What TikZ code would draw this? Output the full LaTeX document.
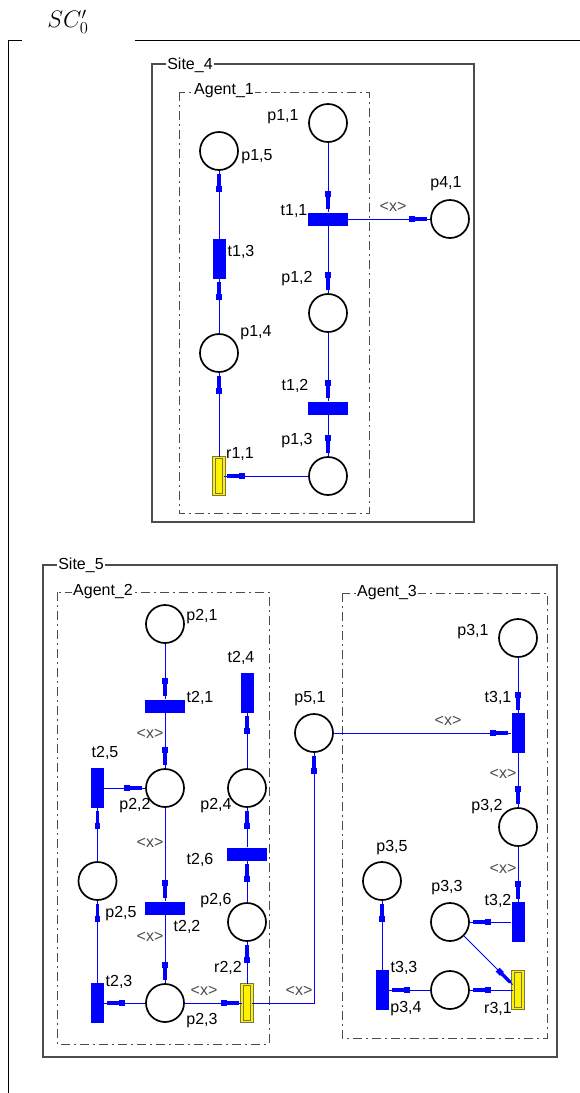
\documentclass[tikz,border=0pt]{standalone}
\usepackage{fontspec}
\usepackage{amsmath}
\usetikzlibrary{arrows.meta,positioning,decorations.markings}
\newfontfamily\netfont{Liberation Sans}

\begin{document}
\begin{tikzpicture}[
    x=1pt, y=-1pt,
    place/.style={draw, circle, line width=1.7pt, minimum size=38pt, inner sep=0pt},
    transh/.style={fill=blue, minimum width=40pt, minimum height=13pt, inner sep=0pt},
    transv/.style={fill=blue, minimum width=13pt, minimum height=40pt, inner sep=0pt},
    res/.style={draw=black!60!yellow, fill=yellow, line width=0.8pt, double=yellow, double distance=1.6pt,
      minimum width=10pt, minimum height=37pt, inner sep=0pt},
    lbl/.style={font=\netfont\fontsize{16}{18}\selectfont, inner sep=0pt},
    inscr/.style={font=\netfont\fontsize{16}{18}\selectfont, text=black!70, inner sep=0pt},
    boxlbl/.style={font=\netfont\fontsize{16}{18}\selectfont, fill=white, inner sep=1pt},
    arc/.style={blue, line width=1pt, postaction={decorate},
      decoration={markings, mark=at position -3pt with {%
        \fill[blue] (-12pt,-1.6pt) rectangle (0pt,1.6pt);
        \fill[blue] (-18pt,-2.8pt) rectangle (-12pt,2.8pt);}}},
    site/.style={draw=black!70, line width=1.3pt},
    agent/.style={draw=black!70, line width=1pt, dash pattern=on 9pt off 4pt on 2pt off 4pt},
  ]
  \useasboundingbox (0,0) rectangle (580,1093);

  % Frame and title
  \draw[line width=1pt] (22,40) -- (8,40) -- (8,1093);
  \draw[line width=1pt] (135,40) -- (580,40);
  \node[inner sep=0pt] (title) at (68,22) {\scalebox{1.15}{\huge$SC'_0$}};

  % Site_4 / Agent_1
  \draw[site] (152,64) rectangle (474,522);
  \node[boxlbl] (site4) at (190,65) {Site\_4};
  \draw[agent] (179,92) rectangle (369,513);
  \node[boxlbl] (agent1) at (224,91) {Agent\_1};

  % Site_5 / Agent_2 / Agent_3
  \draw[site] (43,565) rectangle (557,1057);
  \node[boxlbl] (site5) at (81,565) {Site\_5};
  \draw[agent] (57,592) rectangle (269,1044);
  \node[boxlbl] (agent2) at (103,592) {Agent\_2};
  \draw[agent] (342,593) rectangle (547,1038);
  \node[boxlbl] (agent3) at (387,593) {Agent\_3};

  % Places and transitions of Agent_1
  \node[place] (p11) at (328,123) {};
  \node[place] (p15) at (219,151) {};
  \node[transh] (t11) at (328,219) {};
  \node[place] (p41) at (450,219) {};
  \node[transv] (t13) at (219,259) {};
  \node[place] (p12) at (328,313) {};
  \node[place] (p14) at (219,353) {};
  \node[transh] (t12) at (328,408) {};
  \node[place] (p13) at (328,476) {};
  \node[res] (r11) at (219,476) {};

  % Places and transitions of Agent_2
  \node[place] (p21) at (165,624) {};
  \node[transh] (t21) at (165,706) {};
  \node[transv] (t24) at (247,693) {};
  \node[place] (p51) at (314,733) {};
  \node[transv] (t25) at (97.5,788) {};
  \node[place] (p22) at (165,788) {};
  \node[place] (p24) at (247,788) {};
  \node[transh] (t26) at (247,854) {};
  \node[place] (p25) at (97.5,881) {};
  \node[transh] (t22) at (165,908) {};
  \node[place] (p26) at (247,922) {};
  \node[transv] (t23) at (97.5,1003) {};
  \node[place] (p23) at (165,1003) {};
  \node[res] (r22) at (247,1003) {};

  % Places and transitions of Agent_3
  \node[place] (p31) at (518,638) {};
  \node[transv] (t31) at (518,733) {};
  \node[place] (p32) at (518,827) {};
  \node[place] (p35) at (382,881) {};
  \node[place] (p33) at (450,922) {};
  \node[transv] (t32) at (518,922) {};
  \node[transv] (t33) at (382,990) {};
  \node[place] (p34) at (450,990) {};
  \node[res] (r31) at (518,990) {};

  % Labels
  \node[lbl] (lp11) at (283,117) {p1,1};
  \node[lbl] (lp15) at (257,157) {p1,5};
  \node[lbl] (lp41) at (446,184) {p4,1};
  \node[lbl] (lt11) at (294,211) {t1,1};
  \node[lbl] (lt13) at (241,252) {t1,3};
  \node[lbl] (lp12) at (297,279) {p1,2};
  \node[lbl] (lp14) at (256,333) {p1,4};
  \node[lbl] (lt12) at (295,386) {t1,2};
  \node[lbl] (lp13) at (297,441) {p1,3};
  \node[lbl] (lr11) at (240,454) {r1,1};

  \node[lbl] (lp21) at (202,617) {p2,1};
  \node[lbl] (lt24) at (241,658) {t2,4};
  \node[lbl] (lt21) at (200,698) {t2,1};
  \node[lbl] (lp51) at (310,699) {p5,1};
  \node[lbl] (lt25) at (105,753) {t2,5};
  \node[lbl] (lp22) at (135,806) {p2,2};
  \node[lbl] (lp24) at (216,806) {p2,4};
  \node[lbl] (lt26) at (200,860) {t2,6};
  \node[lbl] (lp26) at (216,901) {p2,6};
  \node[lbl] (lp25) at (121,914) {p2,5};
  \node[lbl] (lt22) at (187,927) {t2,2};
  \node[lbl] (lr22) at (228,968) {r2,2};
  \node[lbl] (lt23) at (119,982) {t2,3};
  \node[lbl] (lp23) at (202,1021) {p2,3};

  \node[lbl] (lp31) at (473,632) {p3,1};
  \node[lbl] (lt31) at (498,698) {t3,1};
  \node[lbl] (lp32) at (487,807) {p3,2};
  \node[lbl] (lp35) at (392,848) {p3,5};
  \node[lbl] (lp33) at (447,888) {p3,3};
  \node[lbl] (lt32) at (498,901) {t3,2};
  \node[lbl] (lt33) at (404,968) {t3,3};
  \node[lbl] (lp34) at (406,1009) {p3,4};
  \node[lbl] (lr31) at (498,1009) {r3,1};

  % Arc inscriptions
  \node[inscr] (x1) at (393,207) {<x>};
  \node[inscr] (x2) at (150,734) {<x>};
  \node[inscr] (x3) at (150,843) {<x>};
  \node[inscr] (x4) at (150,937) {<x>};
  \node[inscr] (x5) at (204,991) {<x>};
  \node[inscr] (x6) at (299,991) {<x>};
  \node[inscr] (x7) at (448,721) {<x>};
  \node[inscr] (x8) at (503,774) {<x>};
  \node[inscr] (x9) at (503,869) {<x>};

  % Arcs of Agent_1
  \draw[arc] (p11) -- (t11);
  \draw[arc] (t11) -- (p41);
  \draw[arc] (t11) -- (p12);
  \draw[arc] (p12) -- (t12);
  \draw[arc] (t12) -- (p13);
  \draw[arc] (p13) -- (r11);
  \draw[arc] (r11) -- (p14);
  \draw[arc] (p14) -- (t13);
  \draw[arc] (t13) -- (p15);

  % Arcs of Agent_2
  \draw[arc] (p21) -- (t21);
  \draw[arc] (t21) -- (p22);
  \draw[arc] (t25) -- (p22);
  \draw[arc] (p25) -- (t25);
  \draw[arc] (t23) -- (p25);
  \draw[arc] (p23) -- (t23);
  \draw[arc] (p22) -- (t22);
  \draw[arc] (t22) -- (p23);
  \draw[arc] (p23) -- (r22);
  \draw[arc] (r22) -| (p51);
  \draw[arc] (r22) -- (p26);
  \draw[arc] (p26) -- (t26);
  \draw[arc] (t26) -- (p24);
  \draw[arc] (p24) -- (t24);

  % Arcs of Agent_3
  \draw[arc] (p51) -- (t31);
  \draw[arc] (p31) -- (t31);
  \draw[arc] (t31) -- (p32);
  \draw[arc] (p32) -- (t32);
  \draw[arc] (t32) -- (p33);
  \draw[arc] (p33) -- (r31);
  \draw[arc] (r31) -- (p34);
  \draw[arc] (p34) -- (t33);
  \draw[arc] (t33) -- (p35);
\end{tikzpicture}
\end{document}
